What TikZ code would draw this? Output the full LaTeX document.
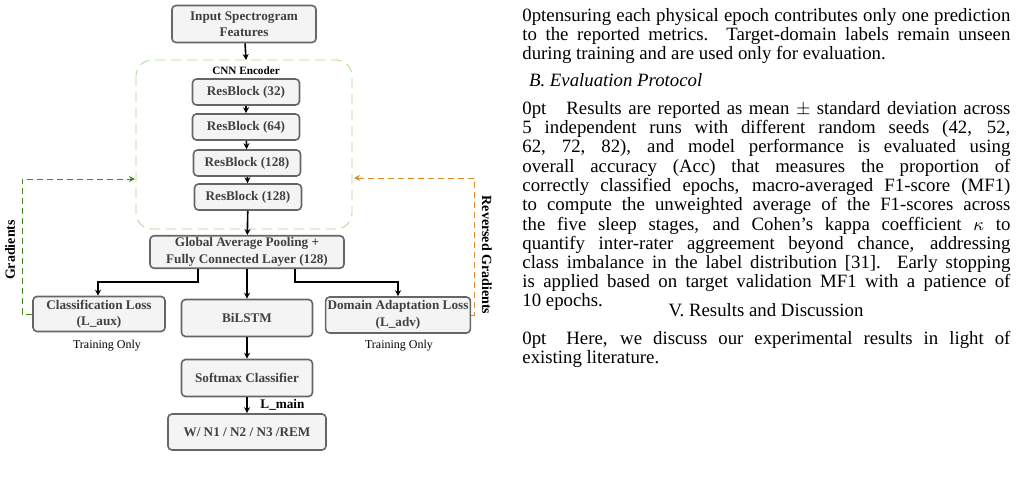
\documentclass[tikz,border=0pt]{standalone}
\usepackage{fontspec}
\setmainfont{Liberation Serif}
\usetikzlibrary{arrows.meta,positioning}
\definecolor{boxfill}{HTML}{F4F4F4}
\definecolor{boxline}{HTML}{666666}
\definecolor{encgreen}{HTML}{A8D98E}
\definecolor{gradgreen}{HTML}{3C8C1E}
\definecolor{gradorange}{HTML}{E08A2A}
\tikzset{
  block/.style={draw=boxline,fill=boxfill,rounded corners=2pt,thick,align=center,
    font=\fontsize{6.6}{8.2}\selectfont\bfseries,text=black!75,inner sep=1pt},
  flow/.style={-{Stealth[length=3pt,width=3pt]},thick},
  body/.style={anchor=north west,inner sep=0pt,text width=244pt,align=justify,
    font=\fontsize{9.4}{8.5}\selectfont\lineskiplimit=-6pt\relax}
}
\begin{document}
\begin{tikzpicture}[x=0.5pt,y=-0.5pt]
\useasboundingbox (0,0) rectangle (1020,476);
% encoder frame
\draw[encgreen,dash pattern=on 5pt off 3pt,rounded corners=8pt]
  (136,60) rectangle (352,229);
\node[font=\fontsize{5.6}{7}\selectfont\bfseries] (enc) at (246,71) {CNN Encoder};
% blocks
\node[block,minimum width=72pt,minimum height=18.5pt] (input) at (244,24) {Input Spectrogram\\Features};
\node[block,minimum width=53.5pt,minimum height=13pt] (rb1) at (246,92) {ResBlock (32)};
\node[block,minimum width=53.5pt,minimum height=13pt] (rb2) at (246,127) {ResBlock (64)};
\node[block,minimum width=53.5pt,minimum height=13pt] (rb3) at (247,163) {ResBlock (128)};
\node[block,minimum width=53.5pt,minimum height=13pt] (rb4) at (248,197) {ResBlock (128)};
\node[block,minimum width=97pt,minimum height=16pt] (gap) at (247,252) {Global Average Pooling +\\Fully Connected Layer (128)};
\node[block,minimum width=66pt,minimum height=17.5pt] (cls) at (99,314) {Classification Loss\\(L\_aux)};
\node[block,minimum width=65.5pt,minimum height=18.5pt] (lstm) at (247,318) {BiLSTM};
\node[block,minimum width=67pt,minimum height=18pt] (dom) at (398,315) {Domain Adaptation Loss\\(L\_adv)};
\node[block,minimum width=65.5pt,minimum height=18.5pt] (soft) at (247,378) {Softmax Classifier};
\node[block,minimum width=79pt,minimum height=18pt] (out) at (247,432) {W/ N1 / N2 / N3 /REM};
\node[font=\fontsize{6}{7}\selectfont] (tr1) at (107,346) {Training Only};
\node[font=\fontsize{6}{7}\selectfont] (tr2) at (399,346) {Training Only};
% connectors
\draw[flow] (input) -- (rb1.north |- 0,60);
\draw[flow] (rb1) -- (rb2);
\draw[flow] (rb2) -- (rb3);
\draw[flow] (rb3) -- (rb4);
\draw[flow] (rb4) -- (gap);
\draw[flow] (gap.south -| 198,0) |- (98,282) -- (cls.north -| 98,0);
\draw[flow] (gap) -- (lstm);
\draw[flow] (gap.south -| 295,0) |- (398,282) -- (dom.north -| 398,0);
\draw[flow] (lstm) -- (soft);
\draw[flow] (soft) -- node[right=3pt,font=\fontsize{6.6}{8}\selectfont\bfseries] {L\_main} (out);
\coordinate (gin) at (135,179);
\coordinate (rin) at (354,178);
\draw[gradgreen,densely dashed,-{Stealth[length=3pt,width=3pt]}] (cls.west) -- (22,314) |- (gin);
\draw[gradorange,densely dashed,-{Stealth[length=3pt,width=3pt]}] (dom.east) -- (474,315) |- (rin);
\node[rotate=90,font=\fontsize{7}{8}\selectfont\bfseries] (glab) at (10,250) {Gradients};
\node[rotate=-90,font=\fontsize{7}{8}\selectfont\bfseries] (rlab) at (487,255) {Reversed Gradients};
% text column
\node[body] (p1) at (522,8) {ensuring each physical epoch contributes only one prediction\linebreak to the reported metrics. Target-domain labels remain unseen\linebreak during training and are used only for evaluation.};
\node[anchor=west,font=\fontsize{9.4}{12}\selectfont\itshape] (sec) at (522,80) {B. Evaluation Protocol};
\node[body] (p2) at (522,101) {\hspace*{10pt}Results are reported as mean $\pm$ standard deviation across\linebreak 5 independent runs with different random seeds (42, 52,\linebreak 62, 72, 82), and model performance is evaluated using\linebreak overall accuracy (Acc) that measures the proportion of\linebreak correctly classified epochs, macro-averaged F1-score (MF1)\linebreak to compute the unweighted average of the F1-scores across\linebreak the five sleep stages, and Cohen's kappa coefficient $\kappa$ to\linebreak quantify inter-rater aggreement beyond chance, addressing\linebreak class imbalance in the label distribution [31]. Early stopping\linebreak is applied based on target validation MF1 with a patience of\linebreak 10 epochs.};
\node[font=\fontsize{9.4}{12}\selectfont] (sec5) at (766,310) {V. R\textsc{esults and} D\textsc{iscussion}};
\node[body] (p3) at (522,331) {\hspace*{10pt}Here, we discuss our experimental results in light of\linebreak existing literature.};
\end{tikzpicture}
\end{document}
